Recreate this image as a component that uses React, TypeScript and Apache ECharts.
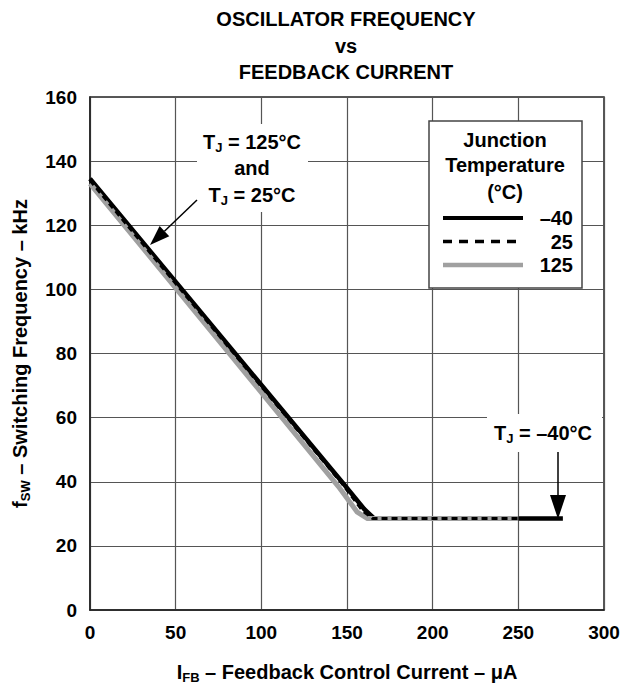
import React, { useEffect, useRef } from "react";
import * as echarts from "echarts";

// Feedback control current (µA) vs switching frequency (kHz), per junction temperature
const currentNeg40 = [0, 147, 160, 166, 276];
const freqNeg40 = [134.5, 40, 31.5, 28.5, 28.5];
const current25 = [0, 147, 159, 165, 250];
const freq25 = [134, 39.5, 31, 28.5, 28.5];
const current125 = [0, 145, 156, 162, 250];
const freq125 = [133, 38.5, 30.5, 28.5, 28.5];

const legendLabels = ["–40", "25", "125"];
const titleLines = ["OSCILLATOR FREQUENCY", "vs", "FEEDBACK CURRENT"];

const FONT = "'Liberation Sans', Arial, Helvetica, sans-serif";

const richSub = {
  n: { fontSize: 20, fontWeight: "bold", fontFamily: FONT, color: "#000", lineHeight: 24 },
  s: { fontSize: 13, fontWeight: "bold", fontFamily: FONT, color: "#000", lineHeight: 13, padding: [11, 0, 0, 0] },
};

const pairs = (xs: number[], ys: number[]) => xs.map((x, i) => [x, ys[i]]);

const txt = (text: string, x: number, y: number, extra: any = {}) => ({
  type: "text",
  x,
  y,
  z: 100,
  style: {
    text,
    fontSize: 20,
    fontWeight: "bold",
    fontFamily: FONT,
    fill: "#000",
    align: "center",
    verticalAlign: "middle",
    ...extra,
  },
});

const richTxt = (text: string, x: number, y: number) => ({
  type: "text",
  x,
  y,
  z: 100,
  style: {
    text,
    fontSize: 20,
    fontWeight: "bold",
    fontFamily: FONT,
    fill: "#000",
    align: "center",
    verticalAlign: "middle",
    rich: {
      n: { fontSize: 20, fontWeight: "bold", fontFamily: FONT, fill: "#000", lineHeight: 24 },
      s: { fontSize: 13, fontWeight: "bold", fontFamily: FONT, fill: "#000", lineHeight: 13, padding: [11, 0, 0, 0] },
    },
  },
});

export default function App() {
  const ref = useRef<HTMLDivElement>(null);

  useEffect(() => {
    if (!ref.current) return;
    const chart = echarts.init(ref.current, null, { renderer: "svg" });

    // arrow 1 geometry
    const a1s = [197, 200];
    const a1t = [150, 245];
    const dx = a1t[0] - a1s[0];
    const dy = a1t[1] - a1s[1];
    const len = Math.sqrt(dx * dx + dy * dy);
    const ux = dx / len;
    const uy = dy / len;
    const bx = a1t[0] - 20 * ux;
    const by = a1t[1] - 20 * uy;
    const px = -uy * 7;
    const py = ux * 7;

    const graphics: any[] = [];
    titleLines.forEach((t, i) => graphics.push(txt(t, 346, 19 + i * 26.5)));

    // annotation 1
    graphics.push({
      type: "rect",
      z: 90,
      shape: { x: 197, y: 124, width: 111, height: 88 },
      style: { fill: "#fff" },
    });
    graphics.push(richTxt("{n|T}{s|J}{n| = 125°C}", 252, 142));
    graphics.push(txt("and", 252, 168));
    graphics.push(richTxt("{n|T}{s|J}{n| = 25°C}", 252, 195));
    graphics.push({
      type: "line",
      z: 100,
      shape: { x1: a1s[0], y1: a1s[1], x2: bx, y2: by },
      style: { stroke: "#000", lineWidth: 1.5 },
    });
    graphics.push({
      type: "polygon",
      z: 100,
      shape: { points: [a1t, [bx + px, by + py], [bx - px, by - py]] },
      style: { fill: "#000" },
    });

    // annotation 2
    graphics.push({
      type: "rect",
      z: 90,
      shape: { x: 487, y: 414, width: 115, height: 38 },
      style: { fill: "#fff" },
    });
    graphics.push(richTxt("{n|T}{s|J}{n| = –40°C}", 543, 433));
    graphics.push({
      type: "line",
      z: 100,
      shape: { x1: 558, y1: 452, x2: 558, y2: 497 },
      style: { stroke: "#000", lineWidth: 1.5 },
    });
    graphics.push({
      type: "polygon",
      z: 100,
      shape: { points: [[558, 519], [550, 495], [566, 495]] },
      style: { fill: "#000" },
    });

    // legend box
    graphics.push({
      type: "rect",
      z: 90,
      shape: { x: 429, y: 121, width: 153, height: 167 },
      style: { fill: "#fff", stroke: "#444", lineWidth: 1.5 },
    });
    graphics.push(txt("Junction", 505, 140));
    graphics.push(txt("Temperature", 505, 165));
    graphics.push(txt("(°C)", 505, 192));
    const legendStyles = [
      { stroke: "#000", lineWidth: 4 },
      { stroke: "#000", lineWidth: 3.5, lineDash: [9, 7] },
      { stroke: "#a0a0a0", lineWidth: 4.5 },
    ];
    legendLabels.forEach((lab, i) => {
      const y = 218 + i * 23.5;
      graphics.push({
        type: "line",
        z: 100,
        shape: { x1: 443, y1: y, x2: 523, y2: y },
        style: legendStyles[i],
      });
      graphics.push(txt(lab, 573, y, { align: "right" }));
    });

    const option: any = {
      animation: false,
      backgroundColor: "#fff",
      grid: {
        left: 88,
        right: 19,
        top: 97,
        bottom: 76,
        show: true,
        borderColor: "#222",
        borderWidth: 1.5,
        containLabel: false,
      },
      xAxis: {
        type: "value",
        min: 0,
        max: 300,
        interval: 50,
        axisLine: { show: true, lineStyle: { color: "#222", width: 1.5 } },
        axisTick: { show: false },
        splitLine: { show: true, lineStyle: { color: "#555", width: 1.2 } },
        axisLabel: {
          margin: 13,
          fontSize: 19,
          fontWeight: "bold",
          fontFamily: FONT,
          color: "#000",
        },
        name: "{n|I}{s|FB}{n| – Feedback Control Current – μA}",
        nameLocation: "middle",
        nameGap: 50,
        nameTextStyle: { rich: richSub },
      },
      yAxis: {
        type: "value",
        min: 0,
        max: 160,
        interval: 20,
        axisLine: { show: true, lineStyle: { color: "#222", width: 1.5 } },
        axisTick: { show: false },
        splitLine: { show: true, lineStyle: { color: "#555", width: 1.2 } },
        axisLabel: {
          margin: 13,
          fontSize: 19,
          fontWeight: "bold",
          fontFamily: FONT,
          color: "#000",
        },
        name: "{n|f}{s|SW}{n| – Switching Frequency – kHz}",
        nameLocation: "middle",
        nameRotate: 90,
        nameGap: 58,
        nameTextStyle: { rich: richSub },
      },
      series: [
        {
          name: "-40",
          type: "line",
          data: pairs(currentNeg40, freqNeg40),
          symbol: "none",
          z: 3,
          lineStyle: { color: "#000", width: 4.5, join: "round" },
        },
        {
          name: "125",
          type: "line",
          data: pairs(current125, freq125),
          symbol: "none",
          z: 4,
          lineStyle: { color: "#a0a0a0", width: 5, join: "round" },
        },
        {
          name: "25",
          type: "line",
          data: pairs(current25, freq25),
          symbol: "none",
          z: 5,
          lineStyle: { color: "#000", width: 3, type: [6, 4] },
        },
      ],
      graphic: graphics,
    };

    chart.setOption(option);
    return () => chart.dispose();
  }, []);

  return (
    <div
      ref={ref}
      style={{ position: "fixed", left: 0, top: 0, width: 623, height: 689, background: "#fff" }}
    />
  );
}
